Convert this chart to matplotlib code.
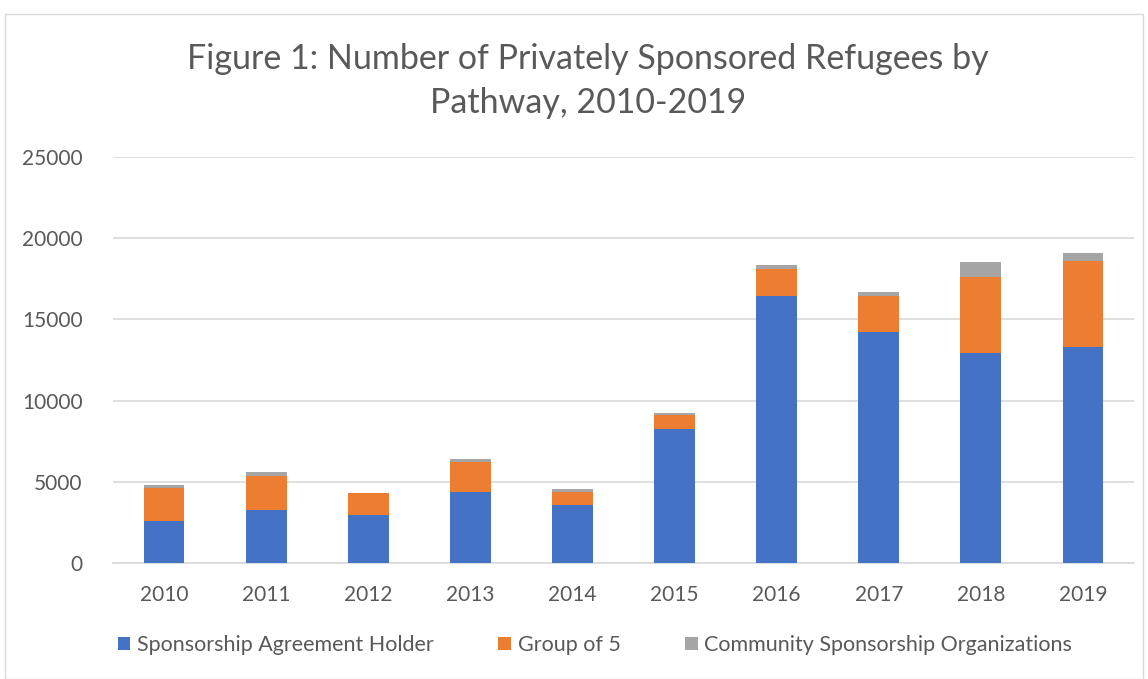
import matplotlib.pyplot as plt
import numpy as np
from matplotlib.patches import Rectangle

years = ['2010', '2011', '2012', '2013', '2014', '2015', '2016', '2017', '2018', '2019']
sah = [2570, 3250, 2930, 4380, 3600, 8230, 16420, 14240, 12930, 13300]
group_of_5 = [2020, 2100, 1350, 1850, 760, 870, 1670, 2180, 4670, 5280]
community = [200, 250, 40, 150, 190, 160, 230, 250, 930, 520]

plt.rcParams['font.family'] = ['Lato', 'DejaVu Sans']
txt = '#595959'

fig = plt.figure(figsize=(11.48, 6.79), dpi=100)
ax = fig.add_axes([113 / 1148, 1 - 563 / 679, (1134 - 113) / 1148, (563 - 157) / 679])

x = np.arange(len(years))
w = 0.4
sah_a = np.array(sah)
g5_a = np.array(group_of_5)
cs_a = np.array(community)
ax.bar(x, sah_a, w, color='#4472C4', label='Sponsorship Agreement Holder', zorder=3)
ax.bar(x, g5_a, w, bottom=sah_a, color='#ED7D31', label='Group of 5', zorder=3)
ax.bar(x, cs_a, w, bottom=sah_a + g5_a, color='#A5A5A5', label='Community Sponsorship Organizations', zorder=3)

ax.set_xlim(-0.5, len(years) - 0.5)
ax.set_ylim(0, 25000)
ax.set_yticks(range(0, 25001, 5000))
ax.set_xticks(x)
ax.set_xticklabels(years)
ax.grid(axis='y', color='#D9D9D9', linewidth=1.2, zorder=0)
for s in ['top', 'right', 'left']:
    ax.spines[s].set_visible(False)
ax.spines['bottom'].set_color('#D9D9D9')
ax.spines['bottom'].set_linewidth(1.2)
ax.tick_params(axis='both', length=0, labelsize=15, labelcolor=txt)
ax.tick_params(axis='x', pad=16)
ax.tick_params(axis='y', pad=22)

fig.text(0.512, 1 - 81 / 679, 'Figure 1: Number of Privately Sponsored Refugees by\nPathway, 2010-2019',
         ha='center', va='center', fontsize=24.5, color=txt, linespacing=1.45)

ax.legend(loc='center left', bbox_to_anchor=(-0.004, -(645 - 563) / 406), ncol=3, frameon=False,
          fontsize=15.5, labelcolor=txt, handlelength=0.6, handleheight=0.6,
          handletextpad=0.3, columnspacing=3.0, borderaxespad=0)

fig.patches.append(Rectangle((5 / 1148, 0), 1 - 10 / 1148, 1 - 14 / 679, transform=fig.transFigure,
                             fill=False, edgecolor='#D9D9D9', linewidth=1))

fig.savefig('out.png', dpi=100)
